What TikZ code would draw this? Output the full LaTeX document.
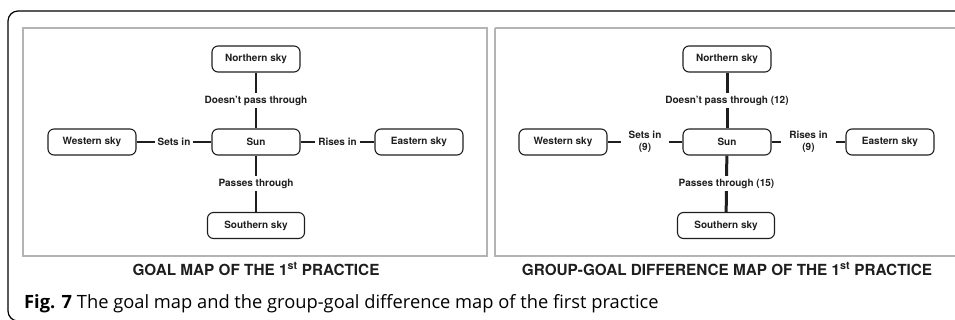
\documentclass[tikz,border=0pt]{standalone}
\usepackage{fontspec}
\setmainfont{TeX Gyre Heros}
\newfontfamily\capfont{Open Sans}
\definecolor{ink}{HTML}{1E1E1E}
\definecolor{panelgray}{HTML}{B4B4B4}
\begin{document}
\begin{tikzpicture}[x=1pt,y=-1pt,
  concept/.style={draw=ink, text=ink, rounded corners=6pt, line width=1.1pt,
    minimum width=88pt, minimum height=26pt, inner sep=0pt,
    font=\bfseries\fontsize{10}{12}\selectfont},
  lab/.style={fill=white, text=ink, inner sep=3pt, align=center,
    font=\bfseries\fontsize{10}{12.5}\selectfont},
  wlab/.style={lab, inner xsep=8pt},
  link/.style={draw=ink, line width=1.1pt},
  heavy/.style={draw=ink, line width=3pt},
  panel/.style={draw=panelgray, line width=1.5pt},
  title/.style={text=ink, font=\bfseries\fontsize{15.3}{18}\selectfont},
  frame/.style={draw=black, line width=1.2pt, rounded corners=10pt}]
\useasboundingbox (0,0) rectangle (955,320);
% outer frame
\draw[frame] (22,321) -- (8,321) -- (8,11) -- (970,11);
% panels
\draw[panel] (23,28) rectangle (487,256);
\draw[panel] (495,28) -- (965,28) (495,28) -- (495,256) -- (965,256);
% ---------- left: goal map ----------
\node[concept] (ln) at (256,59) {Northern sky};
\node[concept] (lc) at (256,142) {Sun};
\node[concept] (lw) at (92,142) {Western sky};
\node[concept] (le) at (419,142) {Eastern sky};
\node[concept, minimum width=97pt] (ls) at (256,225.5) {Southern sky};
\draw[link] (ln) -- node[lab] {Doesn't pass through} (lc);
\draw[link] (lc) -- node[lab] {Passes through} (ls);
\draw[link] (lw) -- node[lab] {Sets in} (lc);
\draw[link] (lc) -- node[lab] {Rises in} (le);
\node[title] (lt) at (256,269) {GOAL MAP OF THE 1\textsuperscript{st} PRACTICE};
% ---------- right: group-goal difference map ----------
\node[concept] (rn) at (727,59) {Northern sky};
\node[concept] (rc) at (727,142) {Sun};
\node[concept] (rw) at (563,142) {Western sky};
\node[concept] (re) at (890,142) {Eastern sky};
\node[concept, minimum width=97pt] (rs) at (726,225.5) {Southern sky};
\draw[heavy] (rn) -- node[lab] {Doesn't pass through (12)} (rc);
\draw[heavy] (rc) -- node[lab] {Passes through (15)} (rs);
\draw[link] (rw) -- node[wlab] {Sets in\\(9)} (rc);
\draw[link] (rc) -- node[wlab] {Rises in\\(9)} (re);
\node[title] (rt) at (727,269) {GROUP-GOAL DIFFERENCE MAP OF THE 1\textsuperscript{st} PRACTICE};
% caption
\node[anchor=base west, inner sep=0pt, font=\capfont\fontsize{18.3}{22}\selectfont] (cap) at (24,308)
  {\textbf{Fig. 7} The goal map and the group-goal difference map of the first practice};
\end{tikzpicture}
\end{document}
